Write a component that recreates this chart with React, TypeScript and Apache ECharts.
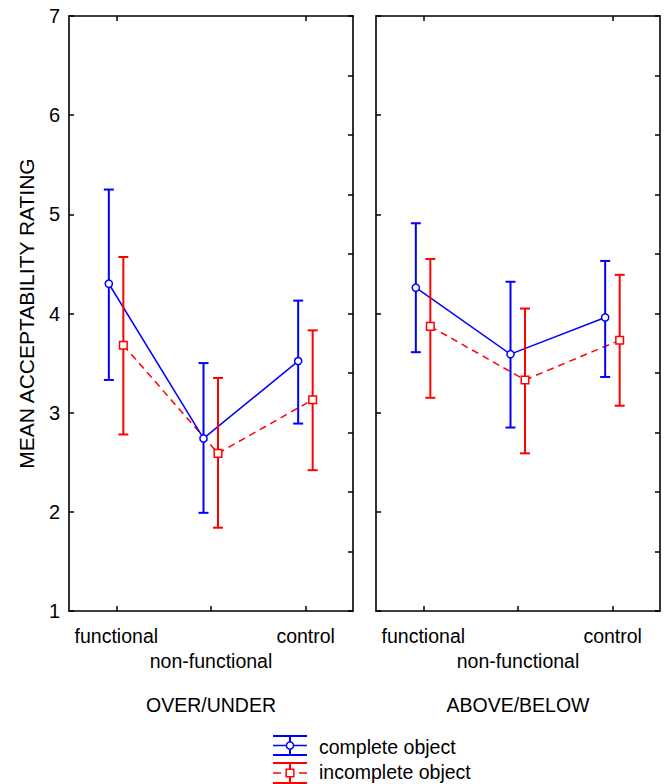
import React, { useEffect, useRef } from "react";
import * as echarts from "echarts";

const categories = ["functional", "non-functional", "control"];
const yTicks = [1, 2, 3, 4, 5, 6, 7];

// OVER/UNDER
const ouCompleteMean = [4.3, 2.74, 3.52];
const ouCompleteLow = [3.33, 1.99, 2.89];
const ouCompleteHigh = [5.25, 3.5, 4.13];
const ouIncompleteMean = [3.68, 2.59, 3.13];
const ouIncompleteLow = [2.78, 1.84, 2.42];
const ouIncompleteHigh = [4.57, 3.35, 3.83];

// ABOVE/BELOW
const abCompleteMean = [4.26, 3.59, 3.96];
const abCompleteLow = [3.61, 2.85, 3.36];
const abCompleteHigh = [4.91, 4.32, 4.53];
const abIncompleteMean = [3.87, 3.33, 3.73];
const abIncompleteLow = [3.15, 2.59, 3.07];
const abIncompleteHigh = [4.55, 4.05, 4.39];

const panelNames = ["OVER/UNDER", "ABOVE/BELOW"];
const legendNames = ["complete object", "incomplete object"];

const BLUE = "#0000ff";
const RED = "#ff0000";
const FONT = "'Liberation Sans', Arial, sans-serif";

function makeRender(means: number[], color: string, dx: number, marker: "circle" | "square", dashed: boolean) {
  return (params: any, api: any) => {
    const i = api.value(0);
    const p = api.coord([i, api.value(1)]);
    const lo = api.coord([i, api.value(2)]);
    const hi = api.coord([i, api.value(3)]);
    const x = p[0] + dx;
    const children: any[] = [];
    if (i > 0) {
      const q = api.coord([i - 1, means[i - 1]]);
      children.push({
        type: "line",
        z2: 1,
        shape: { x1: q[0] + dx, y1: q[1], x2: x, y2: p[1] },
        style: { stroke: color, lineWidth: 1.5, lineDash: dashed ? [7, 5] : undefined },
      });
    }
    const ew = { stroke: color, lineWidth: 2 };
    children.push({ type: "line", z2: 5, shape: { x1: x, y1: lo[1], x2: x, y2: hi[1] }, style: ew });
    children.push({ type: "line", z2: 5, shape: { x1: x - 5, y1: lo[1], x2: x + 5, y2: lo[1] }, style: ew });
    children.push({ type: "line", z2: 5, shape: { x1: x - 5, y1: hi[1], x2: x + 5, y2: hi[1] }, style: ew });
    if (marker === "circle") {
      children.push({ type: "circle", z2: 10, shape: { cx: x, cy: p[1], r: 3.6 }, style: { fill: "#fff", stroke: color, lineWidth: 1.5 } });
    } else {
      children.push({ type: "rect", z2: 10, shape: { x: x - 3.8, y: p[1] - 3.8, width: 7.6, height: 7.6 }, style: { fill: "#fff", stroke: color, lineWidth: 1.5 } });
    }
    return { type: "group", children };
  };
}

function buildData(m: number[], lo: number[], hi: number[]) {
  return categories.map((_, i) => [i, m[i], lo[i], hi[i]]);
}

export default function App() {
  const ref = useRef<HTMLDivElement>(null);
  useEffect(() => {
    if (!ref.current) return;
    const chart = echarts.init(ref.current, undefined, { renderer: "svg" });
    const axisLine = { show: true, lineStyle: { color: "#000", width: 1.6 } };
    const grids = [
      { left: 69, right: 311, top: 16, bottom: 173 },
      { left: 376, right: 4, top: 16, bottom: 173 },
    ];
    const xAxes: any[] = [];
    const yAxes: any[] = [];
    grids.forEach((_, g) => {
      xAxes.push({
        type: "category",
        gridIndex: g,
        position: "bottom",
        data: categories,
        boundaryGap: true,
        axisLine,
        axisTick: { show: true, inside: true, alignWithLabel: true, length: 5, lineStyle: { color: "#000", width: 1.5 } },
        axisLabel: {
          show: true,
          interval: 0,
          margin: 12,
          color: "#000",
          fontFamily: FONT,
          fontSize: 19.5,
          lineHeight: 25,
          formatter: (v: string, idx: number) => (idx === 1 ? "\n" + v : v),
        },
        name: panelNames[g],
        nameLocation: "middle",
        nameGap: 84,
        nameTextStyle: { color: "#000", fontFamily: FONT, fontSize: 19.5 },
        splitLine: { show: false },
      });
      xAxes.push({
        type: "category",
        gridIndex: g,
        position: "top",
        data: categories,
        boundaryGap: true,
        axisLine,
        axisTick: { show: true, inside: true, alignWithLabel: true, length: 5, lineStyle: { color: "#000", width: 1.5 } },
        axisLabel: { show: false },
        splitLine: { show: false },
      });
      yAxes.push({
        type: "value",
        gridIndex: g,
        position: "left",
        min: 1,
        max: 7,
        interval: 1,
        axisLine,
        axisTick: { show: true, inside: true, length: 5, lineStyle: { color: "#000", width: 1.5 } },
        axisLabel: {
          show: g === 0,
          margin: 9,
          color: "#000",
          fontFamily: FONT,
          fontSize: 20,
          formatter: (v: number) => (yTicks.includes(v) ? String(v) : ""),
        },
        splitLine: { show: false },
        name: g === 0 ? "MEAN ACCEPTABILITY RATING" : "",
        nameLocation: "middle",
        nameGap: 32,
        nameTextStyle: { color: "#000", fontFamily: FONT, fontSize: 21 },
      });
      yAxes.push({
        type: "value",
        gridIndex: g,
        position: "right",
        min: 0,
        max: 10,
        interval: 1,
        axisLine,
        axisTick: { show: true, inside: true, length: 5, lineStyle: { color: "#000", width: 1.5 } },
        axisLabel: { show: false },
        splitLine: { show: false },
      });
    });

    const series: any[] = [
      {
        type: "custom",
        xAxisIndex: 0,
        yAxisIndex: 0,
        renderItem: makeRender(ouIncompleteMean, RED, 7, "square", true),
        data: buildData(ouIncompleteMean, ouIncompleteLow, ouIncompleteHigh),
      },
      {
        type: "custom",
        xAxisIndex: 0,
        yAxisIndex: 0,
        renderItem: makeRender(ouCompleteMean, BLUE, -7.5, "circle", false),
        data: buildData(ouCompleteMean, ouCompleteLow, ouCompleteHigh),
      },
      {
        type: "custom",
        xAxisIndex: 2,
        yAxisIndex: 2,
        renderItem: makeRender(abIncompleteMean, RED, 7, "square", true),
        data: buildData(abIncompleteMean, abIncompleteLow, abIncompleteHigh),
      },
      {
        type: "custom",
        xAxisIndex: 2,
        yAxisIndex: 2,
        renderItem: makeRender(abCompleteMean, BLUE, -7.5, "circle", false),
        data: buildData(abCompleteMean, abCompleteLow, abCompleteHigh),
      },
    ];

    const lw = 2;
    const graphic: any[] = [
      // complete object legend icon
      { type: "line", shape: { x1: 273, y1: 736, x2: 307, y2: 736 }, style: { stroke: BLUE, lineWidth: lw } },
      { type: "line", shape: { x1: 273, y1: 755, x2: 307, y2: 755 }, style: { stroke: BLUE, lineWidth: lw } },
      { type: "line", shape: { x1: 290, y1: 736, x2: 290, y2: 755 }, style: { stroke: BLUE, lineWidth: lw } },
      { type: "line", shape: { x1: 273, y1: 745.5, x2: 307, y2: 745.5 }, style: { stroke: BLUE, lineWidth: 1.5 } },
      { type: "circle", shape: { cx: 290, cy: 745.5, r: 3.6 }, style: { fill: "#fff", stroke: BLUE, lineWidth: 1.5 } },
      { type: "text", x: 319, y: 747, style: { text: legendNames[0], fill: "#000", font: `19.5px ${FONT}`, verticalAlign: "middle" } },
      // incomplete object legend icon
      { type: "line", shape: { x1: 273, y1: 763, x2: 307, y2: 763 }, style: { stroke: RED, lineWidth: lw } },
      { type: "line", shape: { x1: 273, y1: 783, x2: 307, y2: 783 }, style: { stroke: RED, lineWidth: lw } },
      { type: "line", shape: { x1: 290, y1: 763, x2: 290, y2: 783 }, style: { stroke: RED, lineWidth: lw } },
      { type: "line", shape: { x1: 273, y1: 773, x2: 281, y2: 773 }, style: { stroke: RED, lineWidth: 1.5 } },
      { type: "line", shape: { x1: 299, y1: 773, x2: 307, y2: 773 }, style: { stroke: RED, lineWidth: 1.5 } },
      { type: "rect", shape: { x: 286.2, y: 769.2, width: 7.6, height: 7.6 }, style: { fill: "#fff", stroke: RED, lineWidth: 1.5 } },
      { type: "text", x: 319, y: 772, style: { text: legendNames[1], fill: "#000", font: `19.5px ${FONT}`, verticalAlign: "middle" } },
    ];

    chart.setOption({
      animation: false,
      backgroundColor: "#fff",
      grid: grids,
      xAxis: xAxes,
      yAxis: yAxes,
      series,
      graphic,
    });
    return () => chart.dispose();
  }, []);
  return <div ref={ref} style={{ position: "fixed", left: 0, top: 0, width: 664, height: 784 }} />;
}
